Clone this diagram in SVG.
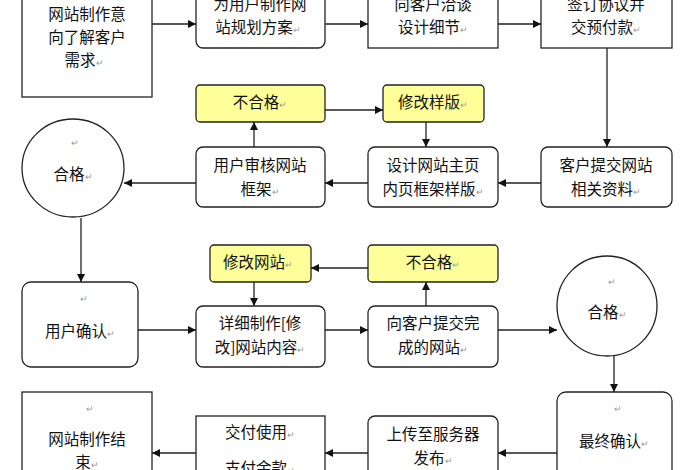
<svg xmlns="http://www.w3.org/2000/svg" width="700" height="470" viewBox="0 0 700 470">
<style>
.b{fill:#fff;stroke:#222;stroke-width:1.3}
.y{fill:#ffff99;stroke:#222;stroke-width:1.3}
text{font-family:"Noto Sans CJK SC","Liberation Sans",sans-serif;font-size:15.5px;fill:#111;text-anchor:middle}
.m{fill:#999;font-size:9px}
.c line{stroke:#222;stroke-width:1.3;marker-end:url(#a)}
</style>
<defs><marker id="a" viewBox="0 0 10 10" refX="10" refY="5" markerWidth="8" markerHeight="8" markerUnits="userSpaceOnUse" orient="auto"><path d="M0,0L10,5L0,10z" fill="#111"/></marker></defs>
<rect width="700" height="470" fill="#fff"/>
<g class="c">
<line x1="152" y1="24" x2="196" y2="24"/>
<line x1="325" y1="24" x2="368" y2="24"/>
<line x1="498" y1="24" x2="541" y2="24"/>
<line x1="607" y1="48" x2="607" y2="147"/>
<line x1="541" y1="183" x2="498" y2="183"/>
<line x1="368" y1="183" x2="325" y2="183"/>
<line x1="196" y1="183" x2="124" y2="183"/>
<line x1="254" y1="147" x2="254" y2="122"/>
<line x1="325" y1="110" x2="383" y2="110"/>
<line x1="426" y1="122" x2="426" y2="147"/>
<line x1="81" y1="218" x2="81" y2="282"/>
<line x1="138" y1="330" x2="196" y2="330"/>
<line x1="325" y1="330" x2="368" y2="330"/>
<line x1="498" y1="330" x2="557" y2="330"/>
<line x1="426" y1="306" x2="426" y2="282"/>
<line x1="368" y1="268" x2="311" y2="268"/>
<line x1="254" y1="282" x2="254" y2="306"/>
<line x1="614" y1="356" x2="614" y2="392"/>
<line x1="557" y1="453" x2="498" y2="453"/>
<line x1="368" y1="453" x2="325" y2="453"/>
<line x1="196" y1="453" x2="152" y2="453"/>
</g>
<g id="n1"><rect class="b" x="22" y="-10" width="130" height="107"/><text x="87" y="20">网站制作意</text><text x="87" y="43">向了解客户</text><text x="84" y="66">需求<tspan class="m">↵</tspan></text></g>
<g id="n2"><rect class="b" x="196" y="-10" width="129" height="58" rx="7"/><text x="260" y="10">为用户制作网</text><text x="258" y="33">站规划方案<tspan class="m">↵</tspan></text></g>
<g id="n3"><rect class="b" x="368" y="-10" width="130" height="58"/><text x="433" y="10">向客户洽谈</text><text x="433" y="33">设计细节<tspan class="m">↵</tspan></text></g>
<g id="n4"><rect class="b" x="541" y="-10" width="131" height="58"/><text x="606" y="10">签订协议并</text><text x="606" y="33">交预付款<tspan class="m">↵</tspan></text></g>
<g id="n5"><rect class="y" x="196" y="85" width="129" height="37" rx="4"/><text x="260" y="108">不合格<tspan class="m">↵</tspan></text></g>
<g id="n6"><rect class="y" x="383" y="85" width="101" height="37" rx="4"/><text x="433" y="108">修改样版<tspan class="m">↵</tspan></text></g>
<g id="n7"><ellipse class="b" cx="73" cy="168" rx="51" ry="49"/><text class="m" x="75" y="146">↵</text><text x="73" y="180">合格<tspan class="m">↵</tspan></text></g>
<g id="n8"><rect class="b" x="196" y="147" width="129" height="60" rx="7"/><text x="260" y="171">用户审核网站</text><text x="260" y="195">框架<tspan class="m">↵</tspan></text></g>
<g id="n9"><rect class="b" x="368" y="147" width="130" height="60" rx="7"/><text x="433" y="171">设计网站主页</text><text x="433" y="195">内页框架样版<tspan class="m">↵</tspan></text></g>
<g id="n10"><rect class="b" x="541" y="147" width="131" height="60" rx="7"/><text x="606" y="171">客户提交网站</text><text x="606" y="195">相关资料<tspan class="m">↵</tspan></text></g>
<g id="n11"><rect class="y" x="210" y="245" width="101" height="37" rx="4"/><text x="258" y="268">修改网站<tspan class="m">↵</tspan></text></g>
<g id="n12"><rect class="y" x="368" y="245" width="130" height="37" rx="4"/><text x="433" y="268">不合格<tspan class="m">↵</tspan></text></g>
<g id="n13"><rect class="b" x="22" y="282" width="116" height="85" rx="9"/><text class="m" x="84" y="302">↵</text><text x="80" y="337">用户确认<tspan class="m">↵</tspan></text></g>
<g id="n14"><rect class="b" x="196" y="306" width="129" height="61" rx="7"/><text x="260" y="329">详细制作[修</text><text x="260" y="353">改]网站内容<tspan class="m">↵</tspan></text></g>
<g id="n15"><rect class="b" x="368" y="306" width="130" height="61" rx="7"/><text x="433" y="329">向客户提交完</text><text x="433" y="353">成的网站<tspan class="m">↵</tspan></text></g>
<g id="n16"><ellipse class="b" cx="607" cy="306" rx="50" ry="50"/><text class="m" x="612" y="285">↵</text><text x="607" y="318">合格<tspan class="m">↵</tspan></text></g>
<g id="n17"><rect class="b" x="557" y="392" width="115" height="90" rx="9"/><text class="m" x="618" y="412">↵</text><text x="614" y="447">最终确认<tspan class="m">↵</tspan></text></g>
<g id="n18"><rect class="b" x="368" y="416" width="130" height="66" rx="7"/><text x="433" y="440">上传至服务器</text><text x="433" y="464">发布<tspan class="m">↵</tspan></text></g>
<g id="n19"><rect class="b" x="196" y="416" width="129" height="66"/><text x="260" y="438">交付使用<tspan class="m">↵</tspan></text><text x="260" y="474">支付余款<tspan class="m">↵</tspan></text></g>
<g id="n20"><rect class="b" x="22" y="392" width="130" height="90"/><text class="m" x="90" y="412">↵</text><text x="87" y="445">网站制作结</text><text x="87" y="468">束<tspan class="m">↵</tspan></text></g>
</svg>
